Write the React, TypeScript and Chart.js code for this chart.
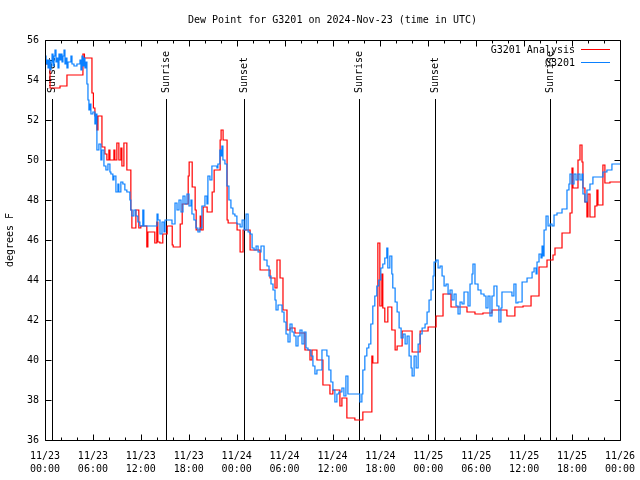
import React, { useEffect, useRef } from "react";
import { Chart, registerables } from "chart.js";

Chart.register(...registerables);

const chartTitle = "Dew Point for G3201 on 2024-Nov-23 (time in UTC)";
const yAxisTitle = "degrees F";
const monthLabel = "11";
const startDay = 23;
const analysisLabel = "G3201 Analysis";
const stationLabel = "G3201";

// hours since 2024-11-23 00:00 UTC
const analysisHours = [
  0, 0.63, 1.88, 2.75, 4.75, 4.94, 5.88, 6.06, 6.25, 6.5, 6.63, 7.13, 7.5, 7.75, 8.0, 8.13, 8.63, 8.75, 9.0, 9.25,
  9.5, 9.63, 9.88, 10.25, 10.75, 10.88, 11.38, 11.75, 12.0, 12.75, 12.88, 13.75, 14.0, 14.13, 14.38, 14.75, 15.3, 15.93, 16.05, 16.93,
  17.18, 17.93, 18.05, 18.43, 18.8, 18.93, 19.43, 19.55, 19.8, 20.3, 20.93, 21.18, 21.93, 22.05, 22.3, 22.8, 22.93, 24.05, 24.43, 24.8,
  25.68, 26.93, 28.18, 28.8, 29.05, 29.43, 29.8, 30.3, 30.68, 31.3, 32.55, 33.18, 33.43, 34.05, 34.8, 35.68, 36.05, 36.93, 37.18, 37.8,
  38.8, 39.8, 40.93, 41.05, 41.68, 41.93, 42.18, 42.3, 42.55, 42.93, 43.43, 43.84, 44.09, 44.72, 45.97, 46.97, 47.97, 48.97, 49.84, 50.84,
  52.84, 53.84, 54.84, 55.97, 57.84, 58.84, 59.86, 60.86, 61.86, 62.86, 63.61, 63.86, 64.74, 65.74, 65.99, 66.11, 66.74, 66.99, 67.24, 67.36,
  67.61, 67.86, 67.99, 68.24, 68.86, 69.11, 69.24, 69.86, 70.11, 70.74, 72,
];
const analysisValues = [
  54.8, 53.6, 53.7, 54.25, 55.3, 55.1, 53.35, 52.6, 52.2, 51.5, 52.2, 50.65, 50.3, 50.0, 50.5, 50.0, 50.5, 50.0, 50.85, 50.0,
  50.6, 49.7, 50.85, 49.5, 47.5, 46.6, 47.5, 46.6, 46.7, 45.65, 46.4, 45.85, 46.9, 45.9, 45.85, 46.3, 46.7, 45.75, 45.65, 46.8,
  47.8, 49.2, 49.9, 48.65, 47.5, 46.5, 47.2, 46.5, 47.65, 47.4, 48.4, 49.5, 51.0, 51.5, 51.0, 47.0, 46.85, 46.5, 45.4, 46.5,
  45.5, 44.5, 44.1, 43.6, 45.0, 44.1, 42.5, 41.5, 41.6, 41.35, 40.5, 40.0, 40.5, 40.0, 38.75, 38.3, 38.5, 37.7, 38.1, 37.1,
  37.0, 37.4, 40.2, 39.85, 45.85, 42.7, 44.3, 42.6, 41.9, 42.65, 41.5, 40.5, 40.7, 41.45, 40.4, 41.45, 41.65, 42.2, 43.3, 42.65,
  42.4, 42.3, 42.35, 42.5, 42.2, 42.65, 42.7, 43.2, 44.65, 45.0, 45.25, 45.6, 46.35, 47.35, 49.6, 48.6, 50.0, 50.75, 49.9, 48.6,
  47.9, 47.15, 48.3, 47.15, 47.7, 48.5, 47.75, 49.75, 48.85, 48.9, 48.9,
];

const stationHours = [
  0, 0.13, 0.25, 0.38, 0.5, 0.63, 0.75, 0.88, 1.0, 1.13, 1.25, 1.38, 1.5, 1.63, 1.75, 1.88, 2.0, 2.13, 2.25, 2.38,
  2.5, 2.63, 2.75, 2.88, 3.25, 3.38, 3.63, 4.0, 4.38, 4.5, 4.63, 4.75, 4.88, 5.0, 5.13, 5.25, 5.38, 5.5, 5.63, 5.75,
  6.0, 6.25, 6.38, 6.5, 6.75, 7.0, 7.13, 7.38, 7.63, 7.88, 8.13, 8.25, 8.5, 8.63, 8.88, 9.13, 9.25, 9.5, 9.75, 10.0,
  10.25, 10.63, 10.75, 10.88, 11.13, 11.38, 11.63, 11.88, 12.25, 12.38, 14.03, 14.15, 14.4, 14.65, 14.9, 15.03, 15.9, 16.28, 16.53, 16.78,
  17.03, 17.28, 17.53, 17.78, 18.03, 18.28, 18.4, 18.65, 18.9, 19.15, 19.4, 19.65, 20.03, 20.28, 20.4, 20.65, 20.9, 21.53, 21.65, 21.9,
  22.03, 22.15, 22.28, 22.53, 22.78, 23.03, 23.28, 23.53, 23.78, 24.03, 24.43, 24.68, 24.93, 25.18, 25.43, 25.68, 25.93, 26.18, 26.43, 26.68,
  27.05, 27.43, 27.8, 28.05, 28.3, 28.55, 28.8, 28.93, 29.18, 29.68, 29.93, 30.18, 30.43, 30.68, 30.93, 31.18, 31.43, 31.68, 31.93, 32.18,
  32.43, 32.68, 32.93, 33.3, 33.55, 33.8, 34.05, 34.68, 35.3, 35.55, 35.8, 36.05, 36.3, 36.55, 36.8, 37.18, 37.43, 37.68, 37.93, 39.43,
  39.68, 39.8, 40.05, 40.3, 40.55, 40.8, 41.05, 41.3, 41.55, 41.8, 42.05, 42.3, 42.55, 42.8, 42.93, 43.18, 43.43, 43.55, 43.84, 44.09,
  44.34, 44.59, 44.84, 45.09, 45.34, 45.59, 45.84, 45.97, 46.22, 46.47, 46.72, 46.97, 47.22, 47.59, 47.84, 48.09, 48.34, 48.59, 48.72, 48.97,
  49.22, 49.47, 49.72, 49.97, 50.22, 50.47, 50.72, 50.97, 51.22, 51.47, 51.72, 51.97, 52.22, 52.47, 52.97, 53.22, 53.47, 53.59, 53.84, 54.22,
  54.59, 54.97, 55.22, 55.47, 55.72, 55.97, 56.22, 56.59, 56.84, 57.09, 57.22, 58.47, 58.72, 58.97, 59.22, 59.74, 60.36, 60.99, 61.24, 61.49,
  61.61, 61.86, 62.11, 62.24, 62.36, 62.49, 62.74, 62.99, 63.24, 63.49, 63.74, 64.11, 64.74, 65.36, 65.61, 65.74, 65.99, 66.24, 66.49, 66.74,
  66.99, 67.24, 67.36, 67.61, 67.86, 68.24, 68.61, 69.86, 70.36, 70.99, 72,
];
const stationValues = [
  55.2, 54.8, 55.0, 54.6, 55.0, 54.5, 54.9, 55.3, 54.7, 55.2, 55.5, 54.9, 55.1, 54.6, 55.3, 55.0, 55.3, 54.9, 55.2, 55.5,
  54.8, 55.1, 54.6, 54.9, 55.2, 54.8, 54.7, 54.8, 55.0, 54.5, 55.2, 54.7, 55.1, 54.6, 54.9, 53.8, 53.0, 52.5, 52.8, 52.3,
  52.4, 51.8, 52.3, 50.5, 50.8, 50.0, 50.5, 49.7, 49.5, 49.8, 49.4, 49.3, 49.0, 49.2, 48.4, 48.8, 48.4, 48.9, 48.8, 48.5,
  48.4, 48.0, 47.5, 47.2, 47.5, 47.2, 46.9, 46.7, 47.5, 46.7, 47.3, 47.0, 46.3, 46.9, 46.4, 47.0, 46.8, 47.85, 47.5, 48.0,
  47.4, 48.2, 47.8, 48.3, 47.7, 48.0, 47.3, 47.0, 46.6, 46.4, 46.6, 47.7, 48.2, 47.8, 49.2, 49.0, 49.7, 49.6, 49.8, 50.5,
  50.2, 50.7, 50.0, 49.8, 48.7, 48.0, 47.6, 47.3, 47.2, 46.8, 46.65, 47.0, 46.5, 47.3, 46.4, 46.3, 45.6, 45.5, 45.7, 45.4,
  45.7, 45.0, 44.7, 44.2, 43.8, 43.5, 43.0, 42.5, 42.75, 42.4, 41.9, 41.3, 40.9, 41.8, 41.4, 41.2, 40.7, 41.2, 41.5, 40.8,
  41.4, 40.6, 40.5, 40.2, 39.7, 39.3, 39.5, 40.5, 40.2, 39.5, 38.9, 38.5, 37.9, 38.3, 38.4, 38.6, 38.2, 39.2, 38.3, 37.9,
  38.3, 39.5, 40.2, 40.6, 40.8, 41.8, 42.7, 43.2, 43.7, 44.0, 44.6, 44.8, 45.1, 45.6, 44.6, 45.2, 44.3, 43.6, 42.9, 42.4,
  41.6, 41.1, 41.3, 40.8, 41.2, 40.2, 39.6, 39.2, 40.2, 39.6, 40.8, 41.3, 41.6, 41.8, 42.4, 43.0, 43.5, 44.2, 44.9, 45.0,
  44.6, 44.7, 44.2, 43.7, 43.8, 43.3, 43.5, 43.0, 43.3, 42.7, 42.3, 42.9, 42.8, 43.4, 42.7, 43.8, 44.3, 44.8, 43.8, 43.5,
  43.3, 43.2, 42.6, 43.2, 42.2, 43.2, 43.7, 42.7, 41.9, 42.6, 43.4, 43.2, 43.8, 42.85, 42.9, 43.9, 44.1, 44.4, 44.6, 44.3,
  44.9, 45.3, 45.1, 45.7, 45.2, 46.5, 47.2, 46.7, 46.8, 46.7, 47.25, 47.35, 47.55, 48.5, 48.8, 49.3, 48.8, 49.3, 49.0, 49.3,
  49.0, 49.3, 48.3, 47.9, 48.5, 48.8, 49.15, 49.4, 49.5, 49.8, 49.8,
];

const sunEventHours = [0.9, 15.18, 24.93, 39.32, 48.84, 63.24];
const sunEventLabels = ["Sunset", "Sunrise", "Sunset", "Sunrise", "Sunset", "Sunrise"];

const xMin = 0;
const xMax = 72;
const xMajorStep = 6;
const xMinorStep = 2;
const yMin = 36;
const yMax = 56;
const yStep = 2;

const RED = "#ff0000";
const BLUE = "#0a80ff";
const FONT_FAMILY = '"DejaVu Sans Mono", monospace';
const FONT_SIZE = 10;
const FONT = `${FONT_SIZE}px ${FONT_FAMILY}`;

const decorPlugin = {
  id: "gnuplotDecor",
  beforeDatasetsDraw(chart: any) {
    const { ctx, chartArea: a, scales } = chart;
    const x = scales.x;
    ctx.save();
    ctx.strokeStyle = "#000";
    ctx.lineWidth = 1;
    ctx.fillStyle = "#000";
    ctx.font = FONT;
    sunEventHours.forEach((h, i) => {
      const px = Math.round(x.getPixelForValue(h)) + 0.5;
      ctx.beginPath();
      ctx.moveTo(px, a.top + 59);
      ctx.lineTo(px, a.bottom);
      ctx.stroke();
      ctx.save();
      ctx.translate(px, a.top + 53);
      ctx.rotate(-Math.PI / 2);
      ctx.textAlign = "left";
      ctx.textBaseline = "middle";
      ctx.fillText(sunEventLabels[i], 0, 0);
      ctx.restore();
    });
    ctx.restore();
  },
  afterDraw(chart: any) {
    const { ctx, chartArea: a, scales } = chart;
    const x = scales.x;
    const y = scales.y;
    const L = Math.round(a.left) + 0.5;
    const R = Math.round(a.right) + 0.5;
    const T = Math.round(a.top) + 0.5;
    const B = Math.round(a.bottom) + 0.5;
    ctx.save();
    ctx.strokeStyle = "#000";
    ctx.lineWidth = 1;
    ctx.beginPath();
    ctx.rect(L, T, R - L, B - T);
    ctx.stroke();
    ctx.beginPath();
    for (let h = xMin; h <= xMax; h += xMinorStep) {
      const px = Math.round(x.getPixelForValue(h)) + 0.5;
      const len = h % xMajorStep === 0 ? 6 : 3;
      ctx.moveTo(px, B);
      ctx.lineTo(px, B - len);
      ctx.moveTo(px, T);
      ctx.lineTo(px, T + len);
    }
    for (let v = yMin; v <= yMax; v += yStep) {
      const py = Math.round(y.getPixelForValue(v)) + 0.5;
      ctx.moveTo(L, py);
      ctx.lineTo(L + 6, py);
      ctx.moveTo(R, py);
      ctx.lineTo(R - 6, py);
    }
    ctx.stroke();

    ctx.fillStyle = "#000";
    ctx.font = FONT;
    ctx.textAlign = "center";
    ctx.textBaseline = "middle";
    ctx.fillText(chartTitle, (a.left + a.right) / 2, 20);
    ctx.save();
    ctx.translate(10, (a.top + a.bottom) / 2);
    ctx.rotate(-Math.PI / 2);
    ctx.fillText(yAxisTitle, 0, 0);
    ctx.restore();
    const legendItems = [
      { label: analysisLabel, color: RED },
      { label: stationLabel, color: BLUE },
    ];
    legendItems.forEach((it, i) => {
      const ly = a.top + 10 + i * 13;
      ctx.fillStyle = "#000";
      ctx.textAlign = "right";
      ctx.textBaseline = "middle";
      ctx.fillText(it.label, a.right - 45, ly);
      ctx.strokeStyle = it.color;
      ctx.beginPath();
      ctx.moveTo(a.right - 39, Math.round(ly) - 0.5);
      ctx.lineTo(a.right - 10, Math.round(ly) - 0.5);
      ctx.stroke();
    });
    ctx.restore();
  },
};

export default function App() {
  const canvasRef = useRef<HTMLCanvasElement | null>(null);

  useEffect(() => {
    const canvas = canvasRef.current;
    if (!canvas) return;
    const chart = new Chart(canvas, {
      type: "line",
      data: {
        datasets: [
          {
            label: analysisLabel,
            data: analysisHours.map((h, i) => ({ x: h, y: analysisValues[i] })),
            borderColor: RED,
            backgroundColor: RED,
            borderWidth: 1.2,
            pointRadius: 0,
            stepped: "before",
            fill: false,
            order: 1,
          },
          {
            label: stationLabel,
            data: stationHours.map((h, i) => ({ x: h, y: stationValues[i] })),
            borderColor: BLUE,
            backgroundColor: BLUE,
            borderWidth: 1.2,
            pointRadius: 0,
            stepped: "before",
            fill: false,
            order: 0,
          },
        ],
      },
      options: {
        animation: false,
        responsive: false,
        devicePixelRatio: 1,
        layout: { padding: { top: 40, right: 20, left: 0, bottom: 0 } },
        plugins: {
          legend: { display: false },
          title: { display: false },
          tooltip: { enabled: false },
        },
        scales: {
          x: {
            type: "linear",
            min: xMin,
            max: xMax,
            grid: { display: false, drawTicks: false },
            border: { display: false },
            afterFit: (s: any) => {
              s.height = 40;
              s.paddingLeft = 0;
              s.paddingRight = 0;
            },
            ticks: {
              stepSize: xMajorStep,
              autoSkip: false,
              maxRotation: 0,
              padding: 10,
              color: "#000",
              font: { family: FONT_FAMILY, size: FONT_SIZE, lineHeight: 1.3 },
              callback: (v: any) => {
                const h = Number(v);
                if (h % xMajorStep !== 0) return "";
                const day = startDay + Math.floor(h / 24);
                const hh = h % 24;
                return [`${monthLabel}/${day}`, `${String(hh).padStart(2, "0")}:00`];
              },
            },
          },
          y: {
            type: "linear",
            min: yMin,
            max: yMax,
            grid: { display: false, drawTicks: false },
            border: { display: false },
            afterFit: (s: any) => {
              s.width = 45;
              s.paddingTop = 0;
              s.paddingBottom = 0;
            },
            ticks: {
              stepSize: yStep,
              padding: 6,
              color: "#000",
              font: { family: FONT_FAMILY, size: FONT_SIZE },
            },
          },
        },
      },
      plugins: [decorPlugin],
    });
    return () => chart.destroy();
  }, []);

  return (
    <div style={{ position: "absolute", left: 0, top: 0, width: 640, height: 480, background: "#fff" }}>
      <canvas ref={canvasRef} width={640} height={480} />
    </div>
  );
}
